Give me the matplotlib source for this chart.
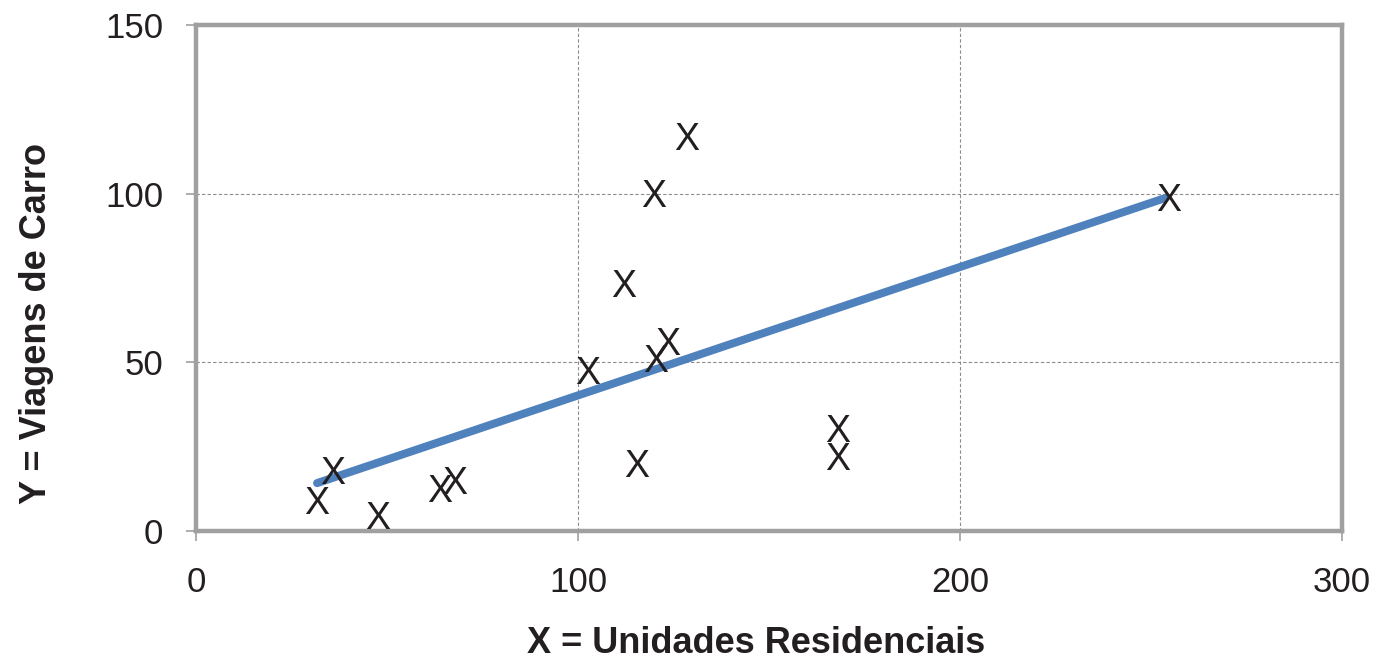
import numpy as np
import matplotlib
matplotlib.use("Agg")
import matplotlib.pyplot as plt

plt.rcParams['font.family'] = ['Liberation Sans', 'DejaVu Sans']

# data
units = [31.7, 35.9, 47.6, 63.9, 67.8, 102.4, 112.0, 115.4, 119.9, 120.4, 123.6, 128.5, 168.1, 168.1, 254.7]
trips = [9.2, 18.1, 4.7, 12.7, 15.1, 47.7, 73.5, 20.2, 100.2, 51.3, 56.3, 117.1, 30.5, 22.2, 99.0]

# trend line end points
trend_x = [31.7, 253.7]
trend_y = [14.2, 98.7]

x_ticks = [0, 100, 200, 300]
y_ticks = [0, 50, 100, 150]

TEXT = '#231F20'
FRAME = '#A0A0A0'

fig = plt.figure(figsize=(13.78, 6.62), dpi=100)
ax = fig.add_axes([196 / 1378, 1 - 531 / 662, (1342 - 196) / 1378, (531 - 25) / 662])

# dashed grid only at inner ticks
for xv in x_ticks[1:-1]:
    ax.axvline(xv, color='#8C8C8C', lw=0.8, ls=(0, (3, 2)), zorder=0)
for yv in y_ticks[1:-1]:
    ax.axhline(yv, color='#8C8C8C', lw=0.8, ls=(0, (3, 2)), zorder=0)

ax.plot(trend_x, trend_y, color='#4F81BD', lw=5.8, solid_capstyle='round', zorder=2)

# points drawn as letter X
for xv, yv in zip(units, trips):
    ax.text(xv, yv, 'X', fontsize=27, color=TEXT, ha='center', va='center_baseline', zorder=3)

ax.set_xlim(0, 300)
ax.set_ylim(0, 150)
ax.set_xticks(x_ticks)
ax.set_yticks(y_ticks)

for s in ax.spines.values():
    s.set_color(FRAME)
    s.set_linewidth(3.2)

ax.tick_params(axis='both', direction='out', length=7.5, width=1.2, color=FRAME, labelsize=25, labelcolor=TEXT)
ax.tick_params(axis='y', pad=16)
ax.tick_params(axis='x', pad=18)

fig.text(756 / 1378, 1 - 653 / 662, 'X = Unidades Residenciais', fontsize=26, fontweight='bold',
         color=TEXT, ha='center', va='baseline')
fig.text(37 / 1378, 1 - 324 / 662, 'Y = Viagens de Carro', fontsize=26, fontweight='bold',
         color=TEXT, ha='center', va='center', rotation=90)

plt.savefig('out.png', dpi=100)
